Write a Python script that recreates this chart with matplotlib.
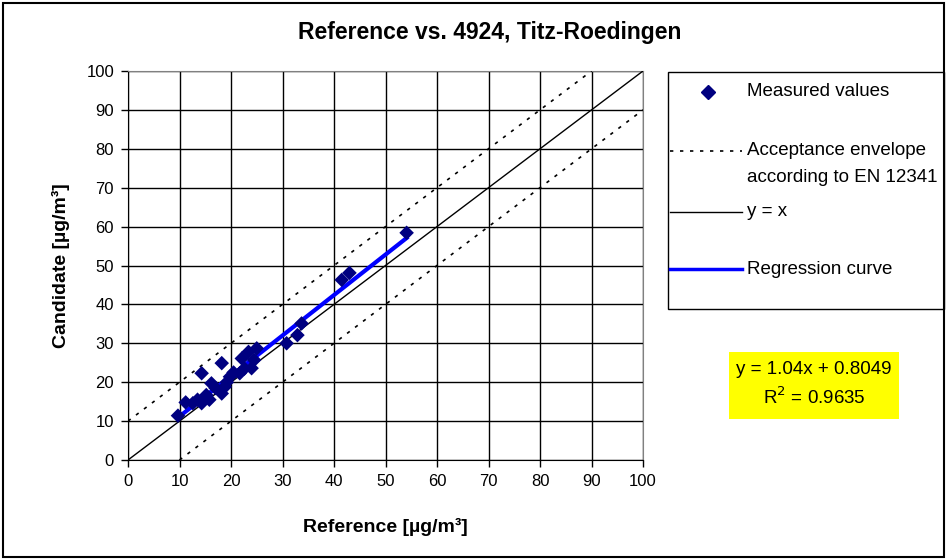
import numpy as np
import matplotlib
matplotlib.use("Agg")
import matplotlib.pyplot as plt
from matplotlib.lines import Line2D
from matplotlib.patches import Rectangle

plt.rcParams['font.family'] = ['Liberation Sans', 'DejaVu Sans']

reference = [9.7, 11.2, 12.6, 13.5, 14.3, 14.3, 15.2, 15.8, 16.2, 17.0,
             18.2, 18.2, 18.8, 19.2, 19.8, 20.5, 21.7, 22.1, 22.6, 23.4,
             24.0, 24.5, 25.0, 30.8, 32.9, 33.7, 41.5, 43.0, 54.1]
candidate = [11.4, 14.8, 14.6, 15.5, 22.3, 14.6, 16.7, 15.5, 19.7, 18.5,
             24.9, 17.1, 18.8, 20.0, 21.4, 22.5, 22.3, 26.1, 23.5, 27.8,
             23.6, 25.7, 28.7, 30.0, 32.1, 35.1, 46.3, 48.1, 58.4]

slope, intercept, r2 = 1.04, 0.8049, 0.9635
envelope = 10
axis_range = [0, 100]
ticks = np.arange(0, 101, 10)

W, H = 947, 560
fig = plt.figure(figsize=(W / 100, H / 100), dpi=100)
ax = fig.add_axes([128 / W, 1 - 460 / H, (643 - 128) / W, (460 - 71) / H])


def fx(px):
    return px / W


def fy(py):
    return 1 - py / H


xx = np.array(axis_range, dtype=float)
ax.plot(xx, xx, color='black', lw=1, zorder=3)
ax.plot([0, 100 - envelope], [envelope, 100], color='black', lw=1.2,
        ls=(0, (2, 4)), zorder=3)
ax.plot([envelope, 100], [0, 100 - envelope], color='black', lw=1.2,
        ls=(0, (2, 4)), zorder=3)

rx = np.array([min(reference), max(reference)])
ax.plot(rx, slope * rx + intercept, color='#0000FF', lw=3, zorder=4)
ax.scatter(reference, candidate, marker='D', s=55, color='#000080',
           edgecolors='none', zorder=5)

ax.set_xlim(axis_range)
ax.set_ylim(axis_range)
ax.set_xticks(ticks)
ax.set_yticks(ticks)
ax.grid(True, color='black', lw=1)
ax.tick_params(direction='out', length=5, width=1, labelsize=12, pad=5)
for s in ax.spines.values():
    s.set_color('#808080')
ax.spines['left'].set_color('black')
ax.spines['bottom'].set_color('black')

ax.set_xlabel('Reference [µg/m³]', fontsize=14, fontweight='bold')
ax.set_ylabel('Candidate [µg/m³]', fontsize=14, fontweight='bold')
ax.xaxis.set_label_coords(0.5, (460 - 518) / 389)
ax.yaxis.set_label_coords((70 - 128) / 515, 0.5)

fig.text(fx(490), fy(33), 'Reference vs. 4924, Titz-Roedingen', ha='center',
         va='center', fontsize=16.5, fontweight='bold')

# legend box
lf = 13.5
fig.add_artist(Rectangle((fx(668), fy(309)), fx(944) - fx(668), fy(72) - fy(309),
                         transform=fig.transFigure, fill=False, ec='black', lw=1))
fig.add_artist(Line2D([fx(708)], [fy(92)], marker='D', ms=7, color='#000080',
                      transform=fig.transFigure, ls='none'))
fig.text(fx(747), fy(92), 'Measured values', va='center', fontsize=lf)
fig.add_artist(Line2D([fx(670), fx(742)], [fy(151), fy(151)], color='black', lw=1.2,
                      ls=(0, (2, 4)), transform=fig.transFigure))
fig.text(fx(747), fy(151), 'Acceptance envelope', va='center', fontsize=lf)
fig.text(fx(747), fy(178), 'according to EN 12341', va='center', fontsize=lf)
fig.add_artist(Line2D([fx(670), fx(742)], [fy(212), fy(212)], color='black', lw=1,
                      transform=fig.transFigure))
fig.text(fx(747), fy(212), 'y = x', va='center', fontsize=lf)
fig.add_artist(Line2D([fx(670), fx(742)], [fy(269), fy(269)], color='#0000FF', lw=2.5,
                      transform=fig.transFigure))
fig.text(fx(747), fy(269), 'Regression curve', va='center', fontsize=lf)

# equation box
fig.add_artist(Rectangle((fx(729), fy(419)), fx(899) - fx(729), fy(352) - fy(419),
                         transform=fig.transFigure, color='#FFFF00', lw=0))
fig.text(fx(814), fy(370), f'y = {slope:.2f}x + {intercept:.4f}', ha='center',
         va='center', fontsize=13.5)
fig.text(fx(814), fy(397), f'R$^2$ = {r2:.4f}', ha='center', va='center', fontsize=13.5)

# outer frame
fig.add_artist(Rectangle((fx(3), fy(557)), fx(944) - fx(3), fy(3) - fy(557),
                         transform=fig.transFigure, fill=False, ec='black', lw=1.5))

fig.savefig('out.png', dpi=100)
